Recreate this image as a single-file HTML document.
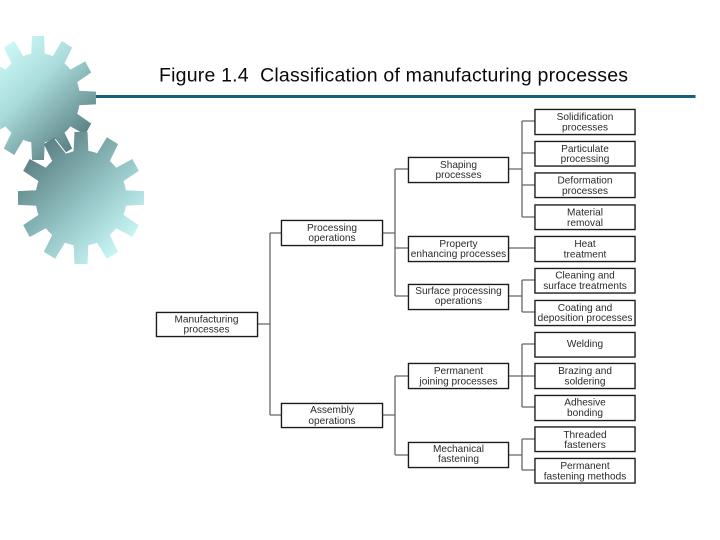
<!DOCTYPE html>
<html>
<head>
<meta charset="utf-8">
<style>
html,body{margin:0;padding:0;background:#fff;width:720px;height:540px;overflow:hidden}
svg{display:block}
.t{font-family:"Liberation Sans",sans-serif;font-size:10.1px;fill:#2a2a2a;text-anchor:middle}
.b{fill:#fff;stroke:#1c1c1c;stroke-width:1.3}
.c{stroke:#666;stroke-width:1.3;fill:none}
.boxes{filter:drop-shadow(0 .6px 0 #444)}
.labels{filter:blur(.3px)}
</style>
</head>
<body>
<svg width="720" height="540" viewBox="0 0 720 540" xmlns="http://www.w3.org/2000/svg">
<defs>
<linearGradient id="g1" gradientUnits="userSpaceOnUse" x1="-5" y1="55" x2="80" y2="145">
<stop offset="0" stop-color="#cdf8f6"/><stop offset=".4" stop-color="#aadcdc"/><stop offset="1" stop-color="#577c7f"/>
</linearGradient>
<linearGradient id="g2" gradientUnits="userSpaceOnUse" x1="35" y1="150" x2="125" y2="245">
<stop offset="0" stop-color="#5a7f82"/><stop offset=".55" stop-color="#94c4c5"/><stop offset="1" stop-color="#c8f6f5"/>
</linearGradient>
<g id="gear">
<circle r="45.500" fill="#fff"/>
<g fill="#fff">
<polygon id="tooth" points="-7.500,-42 -6.500,-63 6.500,-63 7.500,-42"/>
<use href="#tooth" transform="rotate(30)"/><use href="#tooth" transform="rotate(60)"/>
<use href="#tooth" transform="rotate(90)"/><use href="#tooth" transform="rotate(120)"/>
<use href="#tooth" transform="rotate(150)"/><use href="#tooth" transform="rotate(180)"/>
<use href="#tooth" transform="rotate(210)"/><use href="#tooth" transform="rotate(240)"/>
<use href="#tooth" transform="rotate(270)"/><use href="#tooth" transform="rotate(300)"/>
<use href="#tooth" transform="rotate(330)"/>
</g>
</g>
<mask id="m1" maskUnits="userSpaceOnUse" x="0" y="0" width="200" height="300"><use href="#gear" transform="translate(38,98) scale(.92,.985)"/></mask>
<mask id="m2" maskUnits="userSpaceOnUse" x="0" y="100" width="200" height="200"><use href="#gear" transform="translate(81,198) scale(1,1.05)"/></mask>
</defs>

<rect x="0" y="30" width="100" height="135" fill="url(#g1)" mask="url(#m1)"/>
<rect x="15" y="130" width="132" height="136" fill="url(#g2)" mask="url(#m2)"/>
<polyline points="55,139 66,153 73,151" fill="none" stroke="#fff" stroke-width="1"/>

<rect x="96" y="95" width="599.500" height="3" fill="#14607f"/>
<text x="159" y="81.500" font-family="'Liberation Sans',sans-serif" font-size="19.500px" fill="#0a0a0a" textLength="469" xml:space="preserve">Figure 1.4  Classification of manufacturing processes</text>

<g class="c">
<path d="M257 324H270M270 233V415M270 233H281M270 415H281"/>
<path d="M383 233H395M395 169V296M395 169H408M395 248H408M395 296H408"/>
<path d="M383 415H395M395 376V455M395 376H408M395 455H408"/>
<path d="M509 169H522M522 121V217M522 121H535M522 153H535M522 185H535M522 217H535"/>
<path d="M509 248H535"/>
<path d="M509 296H522M522 280V312M522 280H535M522 312H535"/>
<path d="M509 376H535M522 344V407M522 344H535M522 407H535"/>
<path d="M509 455H522M522 439V470M522 439H535M522 470H535"/>
</g>

<g class="boxes">
<rect class="b" x="156.500" y="312.500" width="101" height="24"/>
<rect class="b" x="281.500" y="220.500" width="101" height="25"/>
<rect class="b" x="281.500" y="403.500" width="101" height="24"/>
<rect class="b" x="408.500" y="157.500" width="100" height="25"/>
<rect class="b" x="408.500" y="236.500" width="100" height="25"/>
<rect class="b" x="408.500" y="284.500" width="100" height="25"/>
<rect class="b" x="408.500" y="363.500" width="100" height="25"/>
<rect class="b" x="408.500" y="442.500" width="100" height="25"/>
<rect class="b" x="535" y="109.500" width="100" height="25"/>
<rect class="b" x="535" y="141.500" width="100" height="24.500"/>
<rect class="b" x="535" y="173" width="100" height="24.500"/>
<rect class="b" x="535" y="205" width="100" height="24.500"/>
<rect class="b" x="535" y="236.500" width="100" height="25"/>
<rect class="b" x="535" y="268.500" width="100" height="24.500"/>
<rect class="b" x="535" y="300.500" width="100" height="25"/>
<rect class="b" x="535" y="332.500" width="100" height="24.500"/>
<rect class="b" x="535" y="363.500" width="100" height="25"/>
<rect class="b" x="535" y="395.500" width="100" height="25"/>
<rect class="b" x="535" y="427" width="100" height="24.500"/>
<rect class="b" x="535" y="458.500" width="100" height="24.500"/>
</g>

<g class="labels">
<text class="t" x="206.500" y="322.500">Manufacturing</text><text class="t" x="206.500" y="332.500">processes</text>
<text class="t" x="332" y="231">Processing</text><text class="t" x="332" y="241">operations</text>
<text class="t" x="332" y="413">Assembly</text><text class="t" x="332" y="424">operations</text>
<text class="t" x="458.500" y="168">Shaping</text><text class="t" x="458.500" y="178">processes</text>
<text class="t" x="458.500" y="247">Property</text><text class="t" x="458.500" y="257">enhancing processes</text>
<text class="t" x="458.500" y="294">Surface processing</text><text class="t" x="458.500" y="304">operations</text>
<text class="t" x="458.500" y="374">Permanent</text><text class="t" x="458.500" y="384.500">joining processes</text>
<text class="t" x="458.500" y="452">Mechanical</text><text class="t" x="458.500" y="462">fastening</text>
<text class="t" x="585" y="120">Solidification</text><text class="t" x="585" y="130.500">processes</text>
<text class="t" x="585" y="152">Particulate</text><text class="t" x="585" y="162">processing</text>
<text class="t" x="585" y="183.500">Deformation</text><text class="t" x="585" y="194">processes</text>
<text class="t" x="585" y="215.500">Material</text><text class="t" x="585" y="226">removal</text>
<text class="t" x="585" y="247">Heat</text><text class="t" x="585" y="257.500">treatment</text>
<text class="t" x="585" y="278.500">Cleaning and</text><text class="t" x="585" y="289">surface treatments</text>
<text class="t" x="585" y="311">Coating and</text><text class="t" x="585" y="321">deposition processes</text>
<text class="t" x="585" y="347">Welding</text>
<text class="t" x="585" y="374">Brazing and</text><text class="t" x="585" y="384.500">soldering</text>
<text class="t" x="585" y="405.500">Adhesive</text><text class="t" x="585" y="416">bonding</text>
<text class="t" x="585" y="438">Threaded</text><text class="t" x="585" y="448">fasteners</text>
<text class="t" x="585" y="469">Permanent</text><text class="t" x="585" y="479.500">fastening methods</text>
</g>
</svg>
</body>
</html>
